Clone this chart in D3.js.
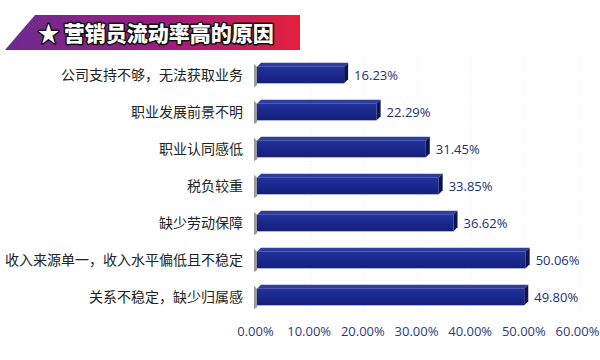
<!DOCTYPE html>
<html><head><meta charset="utf-8">
<script src="https://cdn.jsdelivr.net/npm/d3@7"></script>
<style>body{margin:0;background:#fff}svg{display:block}</style>
</head><body>
<svg id="c" width="600" height="360"></svg>
<script>
const title = "营销员流动率高的原因";
const categories = ["公司支持不够，无法获取业务","职业发展前景不明","职业认同感低","税负较重","缺少劳动保障","收入来源单一，收入水平偏低且不稳定","关系不稳定，缺少归属感"];
const values = [16.23, 22.29, 31.45, 33.85, 36.62, 50.06, 49.80];
const ticks = [0, 10, 20, 30, 40, 50, 60];

const svg = d3.select("#c");
const defs = svg.append("defs");
const g1 = defs.append("linearGradient").attr("id","ban").attr("x1","0").attr("x2","1");
g1.append("stop").attr("offset","0").attr("stop-color","#6b2b8f");
g1.append("stop").attr("offset","0.55").attr("stop-color","#a01c80");
g1.append("stop").attr("offset","1").attr("stop-color","#e4203a");
const g2 = defs.append("linearGradient").attr("id","bar").attr("x1","0").attr("x2","0").attr("y1","0").attr("y2","1");
g2.append("stop").attr("offset","0").attr("stop-color","#22329a");
g2.append("stop").attr("offset","0.5").attr("stop-color","#1a288c");
g2.append("stop").attr("offset","1").attr("stop-color","#142078");

// banner
svg.append("polygon").attr("points","35,15 300,15 300,50 5,50").attr("fill","url(#ban)");
svg.append("text").attr("x",38).attr("y",41)
  .attr("font-family","'Noto Sans CJK SC'").attr("font-weight","900").attr("font-size",21)
  .attr("fill","#fff").attr("stroke","#111").attr("stroke-width",3).attr("paint-order","stroke")
  .attr("stroke-linejoin","round")
  .text("★ " + title);

const x = d3.scaleLinear().domain([0, 60]).range([257, 579]);
const y = d3.scaleBand().domain(categories).range([56.5, 315.5]).paddingInner(0.55).paddingOuter(0.275);

// faint grid
svg.append("g").selectAll("line").data(ticks.slice(1)).join("line")
  .attr("x1", d=>x(d)).attr("x2", d=>x(d)).attr("y1", 56).attr("y2", 316)
  .attr("stroke","#f0f0f0").attr("stroke-dasharray","1,2");

const dep = 4;
const rows = svg.append("g").selectAll("g").data(categories).join("g");
// left grey shadow
rows.append("polygon").attr("points", d=>{
  const t=y(d), b=y(d)+y.bandwidth(), x0=x(0);
  return `${x0-3},${t-3} ${x0},${t} ${x0},${b+2} ${x0-3},${b+4}`;
}).attr("fill","#9a9a9a");
// top face
rows.append("polygon").attr("points", (d,i)=>{
  const t=y(d), x0=x(0), x1=x(values[i]);
  return `${x0},${t} ${x0+dep},${t-dep} ${x1+dep},${t-dep} ${x1},${t}`;
}).attr("fill","#2e3e9e");
// front face
rows.append("rect").attr("x", x(0)).attr("y", d=>y(d))
  .attr("width", (d,i)=>x(values[i])-x(0)).attr("height", y.bandwidth())
  .attr("fill","url(#bar)");
// right face
rows.append("polygon").attr("points", (d,i)=>{
  const t=y(d), b=y(d)+y.bandwidth(), x1=x(values[i]);
  return `${x1},${t} ${x1+dep},${t-dep} ${x1+dep},${b-dep} ${x1},${b}`;
}).attr("fill","#0c1450");

// value labels
rows.append("text").attr("x",(d,i)=>x(values[i])+dep+6).attr("y", d=>y(d)+y.bandwidth()/2+4.5)
  .attr("font-family","'Open Sans'").attr("font-size",13).attr("fill","#22307a")
  .text((d,i)=>values[i].toFixed(2)+"%");

// category labels
rows.append("text").attr("x",243).attr("y", d=>y(d)+y.bandwidth()/2+5)
  .attr("text-anchor","end").attr("font-family","'Noto Sans CJK SC'").attr("font-size",14)
  .attr("fill","#222").text(d=>d);

// x axis
const ax = svg.append("g").attr("transform","translate(-2,320)")
  .call(d3.axisBottom(x).tickValues(ticks).tickSize(0).tickPadding(7).tickFormat(d=>d.toFixed(2)+"%"));
ax.select(".domain").remove();
ax.selectAll("text").attr("font-family","'Open Sans'").attr("font-size",13).attr("fill","#2b3a80");
</script>
</body></html>
